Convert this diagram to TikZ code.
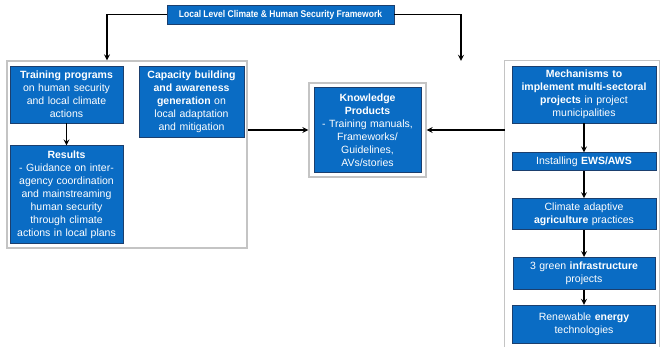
\documentclass[tikz,border=0pt]{standalone}
\usepackage{fontspec}
\setmainfont{Liberation Sans}
\newfontfamily\titlefont{Liberation Sans}[FakeStretch=0.87]
\usepackage{xcolor}
\usepackage{tikz}
\usetikzlibrary{arrows,positioning}
\definecolor{boxblue}{HTML}{0A6CC4}
\definecolor{boxedge}{HTML}{1B3F6E}
\definecolor{framegray}{HTML}{C4C4C4}

\begin{document}
\begin{tikzpicture}[x=1pt, y=-1pt, node distance=27pt]
    % Styles
    \tikzstyle{block} = [rectangle, draw=boxedge, fill=boxblue, text=white, text centered, inner sep=0pt, line width=0.8pt, font=\fontsize{10.5}{12.9}\selectfont]
    \tikzstyle{frame} = [rectangle, draw=framegray, line width=1.3pt, inner sep=0pt]
    \tikzstyle{arrow} = [line width=1.6pt,->,>=stealth]

    \useasboundingbox (0,0) rectangle (661,346);

    % Title
    \node [block, minimum width=227pt, minimum height=19pt, font=\titlefont\fontsize{9.8}{11}\selectfont\bfseries] (title) at (280.5,14.5) {Local Level Climate \& Human Security Framework};

    % Left group - training and capacity building
    \node [frame, minimum width=240pt, minimum height=187pt] (leftframe) at (127,154.5) {};
    \node [block, text width=113pt, minimum height=57pt] (training) at (66.5,94.5) {\textbf{Training programs}\\ on human security\\ and local climate\\ actions};
    \node [block, text width=113pt, minimum height=98pt, below=22pt of training] (results) {\textbf{Results}\\ - Guidance on inter-\\ agency coordination\\ and mainstreaming\\ human security\\ through climate\\ actions in local plans};
    \node [block, text width=105pt, minimum height=71pt] (capacity) at (191.5,101.5) {\textbf{Capacity building}\\ \textbf{and awareness}\\ \textbf{generation} on\\ local adaptation\\ and mitigation};
    \draw[arrow] (training) -- (results);

    % Knowledge products
    \node [frame, minimum width=117pt, minimum height=94pt] (knowframe) at (367.5,130) {};
    \node [block, text width=107pt, minimum height=85pt] (know) at (knowframe) {\textbf{Knowledge}\\ \textbf{Products}\\ - Training manuals,\\ Frameworks/\\ Guidelines,\\ AVs/stories};

    % Right group - projects in municipalities
    \node [minimum width=154pt, minimum height=289pt, inner sep=0pt] (rightframe) at (582,205.5) {};
    \draw[framegray, line width=1.3pt] (rightframe.south west) |- (rightframe.north east) -- (rightframe.south east);
    \node [block, text width=144pt, minimum height=57pt] (mech) at (584,94.5) {\textbf{Mechanisms to}\\ \textbf{implement multi-sectoral}\\ \textbf{projects} in project\\ municipalities};
    \node [block, text width=144pt, minimum height=18pt, below=29pt of mech] (ews) {Installing \textbf{EWS/AWS}};
    \node [block, text width=144pt, minimum height=31pt, below=27pt of ews] (climate) {Climate adaptive\\ \textbf{agriculture} practices};
    \node [block, text width=142pt, minimum height=32pt, below=27pt of climate] (green) {3 green \textbf{infrastructure}\\ projects};
    \node [block, text width=143pt, minimum height=38pt, below=15pt of green] (renew) {Renewable \textbf{energy}\\ technologies};
    \draw[arrow] (mech) -- (ews);
    \draw[arrow] (ews) -- (climate);
    \draw[arrow] (climate) -- (green);
    \draw[arrow] (green) -- (renew);

    % Links
    \draw[arrow] (title.west) -| ([xshift=-20pt]leftframe.north);
    \draw[arrow] (title.east) -| ([xshift=-121pt]rightframe.north);
    \draw[arrow] (leftframe.east |- knowframe.west) -- (knowframe.west);
    \draw[arrow] (rightframe.west |- knowframe.east) -- (knowframe.east);
\end{tikzpicture}
\end{document}
